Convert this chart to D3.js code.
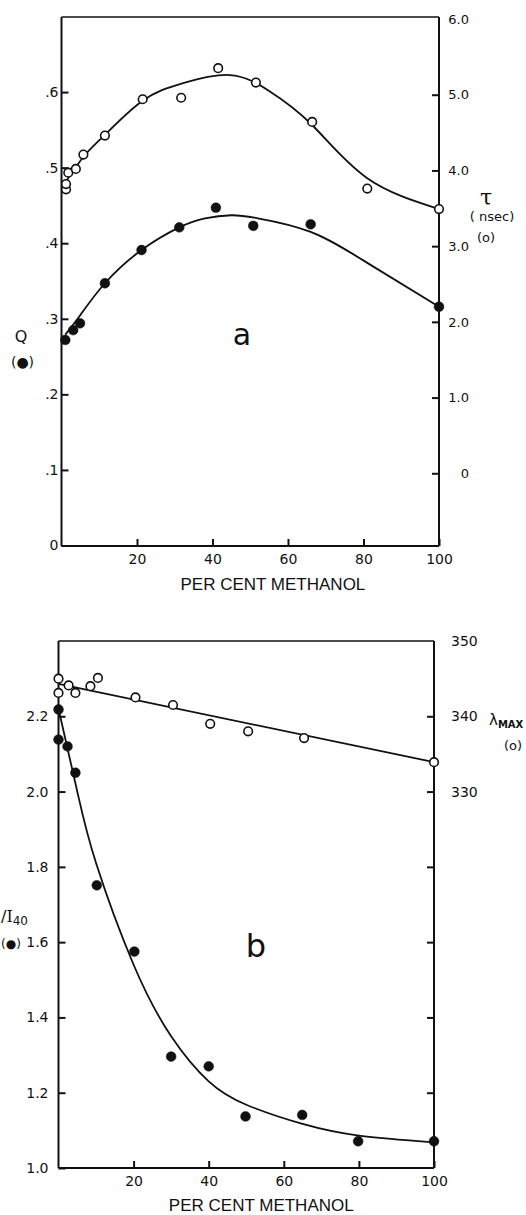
<!DOCTYPE html>
<html>
<head>
<meta charset="utf-8">
<script src="https://cdn.jsdelivr.net/npm/d3@7"></script>
<style>
body { margin: 0; background: #fff; }
text { font-family: "DejaVu Sans", sans-serif; fill: #111; }
</style>
</head>
<body>
<svg id="chart"></svg>
<script>
// ---------- panel a : Q (filled) and tau (open) vs per cent methanol ----------
const tauX = [1.2, 1.2, 1.8, 3.8, 5.8, 11.5, 21.5, 31.7, 41.5, 51.5, 66.4, 81, 100];
const tauY = [3.75, 3.82, 3.97, 4.02, 4.21, 4.46, 4.94, 4.96, 5.35, 5.16, 4.64, 3.76, 3.49];
const tauFitX = [1, 6, 11.5, 21.5, 32, 44.6, 55, 66.4, 80.9, 100];
const tauFitY = [3.84, 4.19, 4.47, 4.92, 5.15, 5.26, 5.05, 4.60, 3.90, 3.49];

const qX = [1, 3.1, 4.9, 11.5, 21.2, 31.2, 40.9, 50.8, 66, 100];
const qY = [0.272, 0.285, 0.294, 0.347, 0.391, 0.421, 0.447, 0.423, 0.425, 0.316];
const qFitX = [1, 5, 11.5, 21.2, 31.2, 38, 45, 52, 66, 81, 100];
const qFitY = [0.279, 0.305, 0.347, 0.391, 0.421, 0.433, 0.437, 0.433, 0.415, 0.374, 0.316];

// ---------- panel b : intensity ratio (filled) and lambda max (open) ----------
const lamX = [0, 0, 2.7, 4.5, 8.5, 10.5, 20.5, 30.5, 40.4, 50.5, 65.4, 100];
const lamY = [345.0, 343.1, 344.1, 343.1, 344.0, 345.1, 342.5, 341.5, 339.0, 338.0, 337.1, 333.9];
const lamFitX = [0, 100];
const lamFitY = [344.3, 333.9];

const ratioX = [0, 0, 2.4, 4.5, 10.2, 20.2, 30, 40, 49.8, 64.9, 79.8, 100];
const ratioY = [2.218, 2.138, 2.120, 2.050, 1.751, 1.575, 1.296, 1.270, 1.137, 1.141, 1.071, 1.071];
const ratioFitX = [0, 5, 10, 20, 30, 40, 50, 65, 80, 100];
const ratioFitY = [2.22, 2.0, 1.81, 1.54, 1.35, 1.23, 1.168, 1.117, 1.086, 1.068];

// tick values
const xTicks = [20, 40, 60, 80, 100];
const qTicks = [0, 0.1, 0.2, 0.3, 0.4, 0.5, 0.6];
const tauTicks = [0, 1, 2, 3, 4, 5, 6];
const ratioTicks = [1.0, 1.2, 1.4, 1.6, 1.8, 2.0, 2.2];
const lamTicks = [290, 300, 310, 320, 330, 340, 350];

const W = 526, H = 1215;
const ink = "#111";

const svg = d3.select("#chart").attr("width", W).attr("height", H);
svg.append("rect").attr("width", W).attr("height", H).attr("fill", "#fff");

const zip = (xs, ys) => xs.map((x, i) => ({ x: x, y: ys[i] }));

function frame(x, top, bottom) {
    const g = svg.append("g").attr("stroke", ink).attr("fill", "none");
    g.append("line").attr("x1", x(0)).attr("x2", x(100)).attr("y1", top).attr("y2", top).attr("stroke-width", 1.6);
    g.append("line").attr("x1", x(0)).attr("x2", x(100)).attr("y1", bottom).attr("y2", bottom).attr("stroke-width", 2);
    g.append("line").attr("x1", x(0)).attr("x2", x(0)).attr("y1", top).attr("y2", bottom).attr("stroke-width", 2);
    g.append("line").attr("x1", x(100)).attr("x2", x(100)).attr("y1", top).attr("y2", bottom).attr("stroke-width", 2);
}

function styleAxis(g, size) {
    g.select(".domain").remove();
    g.attr("font-family", "DejaVu Sans, sans-serif").attr("font-size", size);
    g.selectAll("line").attr("stroke", ink).attr("stroke-width", 2);
    g.selectAll("text").attr("fill", ink);
}

function drawCurve(x, y, pts) {
    const line = d3.line()
        .x(d => x(d.x))
        .y(d => y(d.y))
        .curve(d3.curveNatural);
    svg.append("path")
        .datum(pts)
        .attr("fill", "none")
        .attr("stroke", ink)
        .attr("stroke-width", 1.8)
        .attr("d", line);
}

function drawPoints(x, y, pts, open) {
    svg.append("g").selectAll("circle")
        .data(pts)
        .join("circle")
        .attr("cx", d => x(d.x))
        .attr("cy", d => y(d.y))
        .attr("r", open ? 4.3 : 4.9)
        .attr("fill", open ? "#fff" : ink)
        .attr("stroke", ink)
        .attr("stroke-width", open ? 1.6 : 0.5);
}

// ########## panel a ##########
const xA = d3.scaleLinear().domain([0, 100]).range([61.5, 439]);
const yQ = d3.scaleLinear().domain([0, 0.7]).range([545.5, 16.5]);
const yT = d3.scaleLinear().domain([-1, 6]).range([549, 19]);
const topA = 17, botA = 546;

frame(xA, topA, botA);

svg.append("g")
    .attr("transform", `translate(${xA(0)},0)`)
    .call(d3.axisLeft(yQ).tickValues(qTicks).tickSize(-7).tickPadding(3)
        .tickFormat(d => d === 0 ? "0" : "." + Math.round(d * 10)))
    .call(g => styleAxis(g, 14));

svg.append("g")
    .attr("transform", `translate(${xA(100)},0)`)
    .call(d3.axisRight(yT).tickValues(tauTicks).tickSize(-7)
        .tickFormat(d => d === 0 ? "0" : d.toFixed(1)))
    .call(g => styleAxis(g, 13))
    .call(g => g.selectAll("text").attr("x", 30).attr("text-anchor", "end"))
    .call(g => g.selectAll(".tick").filter(d => d === 6).select("line").remove());

svg.append("g")
    .attr("transform", `translate(0,${botA})`)
    .call(d3.axisBottom(xA).tickValues(xTicks).tickSize(-7).tickPadding(8))
    .call(g => styleAxis(g, 14));

drawCurve(xA, yT, zip(tauFitX, tauFitY));
drawCurve(xA, yQ, zip(qFitX, qFitY));
drawPoints(xA, yT, zip(tauX, tauY), true);
drawPoints(xA, yQ, zip(qX, qY), false);

svg.append("text").attr("x", xA(56)).attr("y", 590).attr("text-anchor", "middle")
    .style("font-family", "Liberation Sans, sans-serif").style("font-size", "17px")
    .text("PER CENT METHANOL");
svg.append("text").attr("x", 242).attr("y", 345).attr("text-anchor", "middle")
    .style("font-size", "30px").text("a");
svg.append("text").attr("x", 21).attr("y", 342).attr("text-anchor", "middle")
    .style("font-size", "16px").text("Q");
svg.append("text").attr("x", 22.5).attr("y", 367).attr("text-anchor", "middle")
    .style("font-size", "14px").text("(●)");
svg.append("text").attr("x", 486).attr("y", 205).attr("text-anchor", "middle")
    .style("font-family", "DejaVu Serif, serif").style("font-size", "22px").text("τ");
svg.append("text").attr("x", 492).attr("y", 221).attr("text-anchor", "middle")
    .style("font-size", "13px").text("( nsec)");
svg.append("text").attr("x", 486).attr("y", 242).attr("text-anchor", "middle")
    .style("font-size", "13px").text("(o)");

// ########## panel b ##########
const xB = d3.scaleLinear().domain([0, 100]).range([58.5, 434]);
const yR = d3.scaleLinear().domain([1.0, 2.4]).range([1168, 641]);
const yL = d3.scaleLinear().domain([280, 350]).range([1168, 641]);
const topB = 641, botB = 1168;

frame(xB, topB, botB);

svg.append("g")
    .attr("transform", `translate(${xB(0)},0)`)
    .call(d3.axisLeft(yR).tickValues(ratioTicks).tickSize(-7).tickPadding(10)
        .tickFormat(d3.format(".1f")))
    .call(g => styleAxis(g, 14));

svg.append("g")
    .attr("transform", `translate(${xB(100)},0)`)
    .call(d3.axisRight(yL).tickValues(lamTicks).tickSize(-7)
        .tickFormat(d => d >= 330 ? d : ""))
    .call(g => styleAxis(g, 14))
    .call(g => g.selectAll("text").attr("x", 17).attr("text-anchor", "start"))
    .call(g => g.selectAll(".tick").filter(d => d === 350).select("line").remove());

svg.append("g")
    .attr("transform", `translate(0,${botB})`)
    .call(d3.axisBottom(xB).tickValues(xTicks).tickSize(-7).tickPadding(8))
    .call(g => styleAxis(g, 14));

drawCurve(xB, yL, zip(lamFitX, lamFitY));
drawCurve(xB, yR, zip(ratioFitX, ratioFitY));
drawPoints(xB, yL, zip(lamX, lamY), true);
drawPoints(xB, yR, zip(ratioX, ratioY), false);

svg.append("text").attr("x", xB(54)).attr("y", 1211).attr("text-anchor", "middle")
    .style("font-family", "Liberation Sans, sans-serif").style("font-size", "17px")
    .text("PER CENT METHANOL");
svg.append("text").attr("x", 256).attr("y", 957).attr("text-anchor", "middle")
    .style("font-size", "32px").text("b");

const lamLabel = svg.append("text").attr("x", 489).attr("y", 725).style("font-size", "15px");
lamLabel.append("tspan").text("λ");
lamLabel.append("tspan").attr("dy", 3).style("font-size", "10px").style("font-weight", "bold").text("MAX");
svg.append("text").attr("x", 504).attr("y", 750).style("font-size", "13px").text("(o)");

const ratioLabel = svg.append("text").attr("x", 1).attr("y", 922).style("font-size", "16px");
ratioLabel.append("tspan").text("/");
ratioLabel.append("tspan").style("font-family", "DejaVu Serif, serif").text("I");
ratioLabel.append("tspan").attr("dy", 3).style("font-size", "12px").text("40");
svg.append("text").attr("x", 1).attr("y", 948)
    .style("font-size", "12px").text("(●)");
</script>
</body>
</html>
